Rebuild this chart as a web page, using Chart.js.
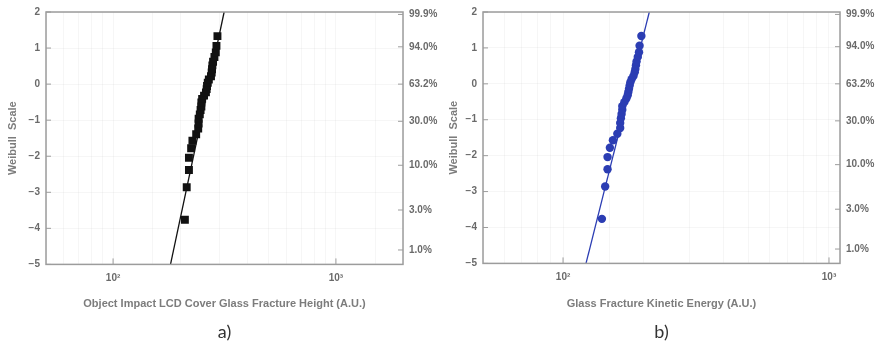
<!DOCTYPE html>
<html>
<head>
<meta charset="utf-8">
<title>Weibull plots</title>
<script src="https://cdn.jsdelivr.net/npm/chart.js@4.4.1/dist/chart.umd.min.js"></script>
<style>
  body { margin: 0; background: #fff; }
  .panel { position: absolute; top: 0; height: 345px; }
  #panelA { left: 0; width: 441px; }
  #panelB { left: 441px; width: 442px; }
</style>
</head>
<body>
<div class="panel" id="panelA"><canvas id="heightChart"></canvas></div>
<div class="panel" id="panelB"><canvas id="energyChart"></canvas></div>
<script>
// Weibull scale value ln(-ln(1-F)) of each sorted sample (30 parts)
const weibullY = [-3.76, -2.86, -2.38, -2.04, -1.78, -1.57, -1.39, -1.23, -1.09, -0.96,
                  -0.84, -0.72, -0.62, -0.51, -0.41, -0.32, -0.23, -0.14, -0.05, 0.04,
                  0.13, 0.22, 0.32, 0.41, 0.52, 0.62, 0.75, 0.88, 1.06, 1.33];

// a) fracture height per part
const heightX = [210, 214, 219, 219, 224, 227, 236, 241, 242, 242,
                 245, 247, 249, 249, 251, 256, 261, 263, 264, 266,
                 269, 275, 277, 278, 279, 281, 285, 289, 291, 294];

// b) kinetic energy per part
const energyX = [140, 144, 147, 147, 150, 154, 160, 164, 164, 165,
                 166, 167, 167, 170, 173, 175, 176, 177, 178, 179,
                 181, 184, 186, 187, 188, 189, 191, 193, 194, 197];

// fitted Weibull lines, x at the bottom and top of the plot
const fitY = [-5, 2];
const heightFitX = [181, 315];
const energyFitX = [122, 211];

// cumulative probability labels on the right axis
const probValues = [0.01, 0.03, 0.10, 0.30, 0.632, 0.94, 0.999];
const probLabels = ['1.0%', '3.0%', '10.0%', '30.0%', '63.2%', '94.0%', '99.9%'];

const decadeLabels = { 100: '10\u00b2', 1000: '10\u00b3' };

const tickFont = { family: 'Liberation Sans', size: 10, weight: 'bold' };
const titleFont = { family: 'Liberation Sans', size: 11, weight: 'bold' };
const tickColor = '#6a6a6a';
const titleColor = '#7c7c7c';
const faintGrid = 'rgba(0,0,0,0.035)';

// frame around the plot plus short tick marks pointing inwards
const frameTicks = {
  id: 'frameTicks',
  afterDraw(chart) {
    const { ctx, chartArea: a, scales } = chart;
    ctx.save();
    ctx.strokeStyle = '#9c9c9c';
    ctx.lineWidth = 1;
    ctx.beginPath();
    scales.y.ticks.forEach(t => {
      const p = scales.y.getPixelForValue(t.value);
      ctx.moveTo(a.left, p); ctx.lineTo(a.left + 5, p);
    });
    scales.y2.ticks.forEach(t => {
      const p = scales.y2.getPixelForValue(t.value);
      ctx.moveTo(a.right, p); ctx.lineTo(a.right - 5, p);
    });
    scales.x.ticks.forEach(t => {
      if (!decadeLabels[t.value]) return;
      const p = scales.x.getPixelForValue(t.value);
      ctx.moveTo(p, a.bottom); ctx.lineTo(p, a.bottom - 6);
    });
    ctx.stroke();
    ctx.lineWidth = 1.5;
    ctx.strokeRect(a.left, a.top, a.right - a.left, a.bottom - a.top);
    ctx.restore();
  }
};

function buildChart(canvasId, opts) {
  const points = weibullY.map((y, i) => ({ x: opts.xs[i], y: y }));
  const fit = fitY.map((y, i) => ({ x: opts.fitX[i], y: y }));

  return new Chart(document.getElementById(canvasId), {
    type: 'scatter',
    data: {
      datasets: [
        {
          type: 'line',
          data: fit,
          borderColor: opts.color,
          borderWidth: 1.3,
          pointRadius: 0,
          order: 2
        },
        {
          data: points,
          pointStyle: opts.marker,
          pointRadius: opts.radius,
          backgroundColor: opts.color,
          borderColor: opts.color,
          borderWidth: 0,
          order: 1
        }
      ]
    },
    options: {
      responsive: true,
      maintainAspectRatio: false,
      animation: false,
      layout: { padding: { top: opts.top, left: 0, right: 0, bottom: 0 } },
      plugins: {
        legend: { display: false },
        tooltip: { enabled: false },
        title: {
          display: true,
          text: opts.caption,
          position: 'bottom',
          fullSize: false,
          color: '#333',
          font: { family: 'Lato', size: 18, weight: 'normal' },
          padding: { top: 0, bottom: 2 }
        }
      },
      scales: {
        x: {
          type: 'logarithmic',
          min: 50,
          max: opts.xMax,
          border: { display: false },
          grid: { color: faintGrid, drawTicks: false },
          ticks: {
            autoSkip: false,
            maxRotation: 0,
            padding: 8,
            color: tickColor,
            font: tickFont,
            callback: v => decadeLabels[v] || ''
          },
          title: {
            display: true,
            text: opts.xTitle,
            color: titleColor,
            font: titleFont,
            padding: { top: 0, bottom: 11 }
          },
          afterFit(s) { s.height = opts.xHeight; }
        },
        y: {
          position: 'left',
          min: -5,
          max: 2,
          border: { display: false },
          grid: { color: faintGrid, drawTicks: false },
          ticks: {
            stepSize: 1,
            padding: 6,
            color: tickColor,
            font: tickFont,
            callback: v => String(v).replace('-', '\u2212')
          },
          title: {
            display: true,
            text: 'Weibull  Scale',
            color: titleColor,
            font: titleFont,
            padding: { top: 6, bottom: 0 }
          },
          afterFit(s) { s.width = opts.leftWidth; }
        },
        y2: {
          position: 'right',
          min: -5,
          max: 2,
          border: { display: false },
          grid: { display: false, drawTicks: false },
          afterBuildTicks(s) {
            s.ticks = probValues.map(p => ({ value: Math.log(-Math.log(1 - p)) }));
          },
          ticks: {
            padding: 6,
            color: tickColor,
            font: tickFont,
            callback: (v, i) => probLabels[i]
          },
          afterFit(s) { s.width = opts.rightWidth; }
        }
      }
    },
    plugins: [frameTicks]
  });
}

buildChart('heightChart', {
  xs: heightX,
  fitX: heightFitX,
  color: '#111111',
  marker: 'rect',
  radius: 5.6,
  xMax: 2000,
  top: 11,
  xHeight: 57,
  leftWidth: 46,
  rightWidth: 38,
  caption: 'a)',
  xTitle: 'Object Impact LCD Cover Glass Fracture Height (A.U.)'
});

buildChart('energyChart', {
  xs: energyX,
  fitX: energyFitX,
  color: '#2b3db3',
  marker: 'circle',
  radius: 4.2,
  xMax: 1100,
  top: 9,
  xHeight: 58,
  leftWidth: 42,
  rightWidth: 43,
  caption: 'b)',
  xTitle: 'Glass Fracture Kinetic Energy (A.U.)'
});
</script>
</body>
</html>
